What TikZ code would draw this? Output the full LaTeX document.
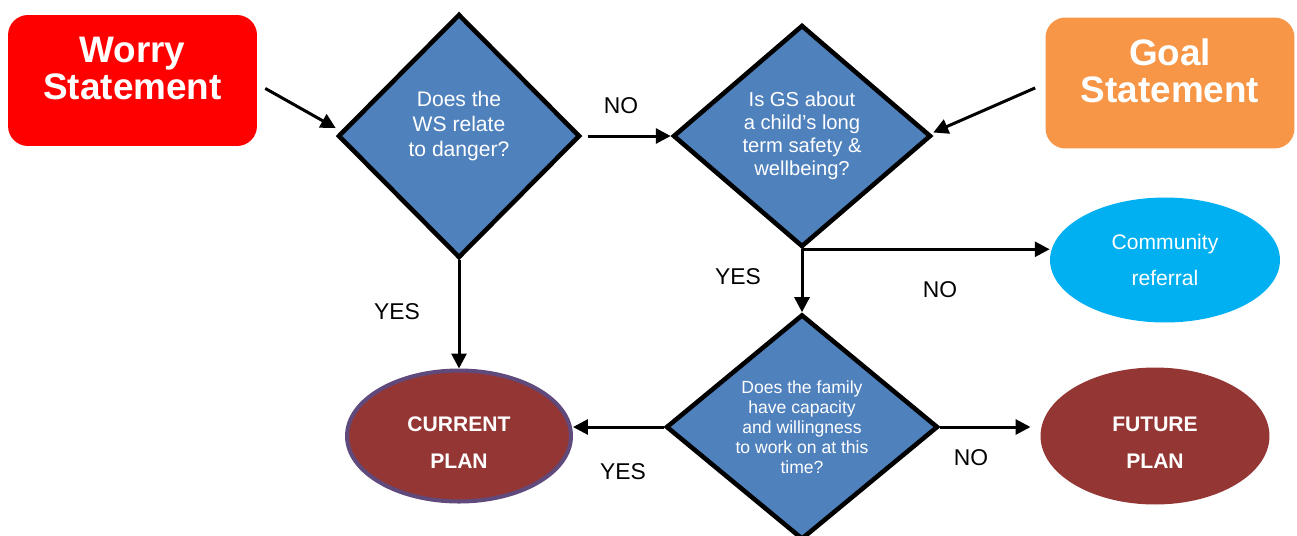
\documentclass[tikz,border=0pt]{standalone}
\usepackage{fontspec}
\setmainfont{Liberation Sans}
\usetikzlibrary{arrows.meta,shapes.geometric}
\definecolor{worryred}{HTML}{FF0000}
\definecolor{goalorange}{HTML}{F79646}
\definecolor{qblue}{HTML}{4F81BD}
\definecolor{commcyan}{HTML}{00B0F0}
\definecolor{planred}{HTML}{943634}
\definecolor{planedge}{HTML}{604A7B}

\begin{document}
\begin{tikzpicture}[x=0.02cm,y=-0.02cm,>={Triangle[length=8.5pt,width=8.5pt]},
  statebox/.style={rounded corners=0.4cm,minimum width=4.98cm,minimum height=2.62cm},
  stext/.style={text=white,align=center,font=\fontsize{21}{21}\selectfont\bfseries},
  question/.style={diamond,draw=black,line width=2.6pt,fill=qblue,text=white,align=center,inner sep=0pt},
  plan/.style={ellipse,fill=planred},
  ptext/.style={text=white,align=center,font=\fontsize{12}{21}\selectfont\bfseries},
  answer/.style={font=\fontsize{13}{15}\selectfont},
  flow/.style={->,line width=1.7pt}]
\useasboundingbox (0,0) rectangle (1297,535);

% statements
\node[statebox,fill=worryred,label={[stext,yshift=6.8pt]center:Worry\\Statement}] (ws) at (132.5,80.5) {};
\node[statebox,fill=goalorange,label={[stext,yshift=6.8pt]center:Goal\\Statement}] (gs) at (1170,83) {};

% questions
\node[question,minimum width=4.84cm,minimum height=4.88cm,
  label={[text=white,align=center,font=\fontsize{12}{14}\selectfont,yshift=5.7pt]center:Does the\\WS relate\\to danger?}]
  (d1) at (459,136) {};
\node[question,minimum width=5.16cm,minimum height=4.44cm,font=\fontsize{11.5}{13}\selectfont] (d2) at (802,136)
  {Is GS about\\a child’s long\\term safety \&\\wellbeing?};
\node[question,minimum width=5.44cm,minimum height=4.48cm,font=\fontsize{10}{11.3}\selectfont] (d3) at (802,427)
  {Does the family\\have capacity\\and willingness\\to work on at this\\time?};

% outcomes
\node[ellipse,fill=commcyan,text=white,align=center,minimum width=4.6cm,minimum height=2.5cm,
  font=\fontsize{12}{21}\selectfont] (cr) at (1165,260) {Community\\referral};
\node[plan,draw=planedge,line width=2.3pt,minimum width=4.48cm,minimum height=2.62cm,
  label={[ptext,yshift=-4pt]center:CURRENT\\PLAN}] (cp) at (459,436) {};
\node[plan,minimum width=4.58cm,minimum height=2.74cm,
  label={[ptext,yshift=-4pt]center:FUTURE\\PLAN}] (fp) at (1155,436) {};

% connectors
\draw[flow] ([xshift=4.5pt,yshift=-4.5pt]ws.east) -- ([yshift=4.5pt]d1.west);
\draw[flow] ([xshift=-5.7pt,yshift=-2.8pt]gs.west) -- ([yshift=2pt]d2.east);
\draw[flow,shorten <=3pt] (d1.east) -- (d2.west);
\draw[flow] (d2.south) -- (d2.south -| cr.west);
\draw[flow] (d2.south) -- (d3.north);
\draw[flow] (d1.south) -- (cp.north);
\draw[flow] (d3.west) -- (d3.west -| cp.east);
\draw[flow,shorten >=5.5pt] (d3.east) -- (d3.east -| fp.west);

% answers
\node[answer] (no1) at (621,106) {NO};
\node[answer] (yes1) at (397,312) {YES};
\node[answer] (yes2) at (738,277) {YES};
\node[answer] (no2) at (940,290) {NO};
\node[answer] (yes3) at (623,472) {YES};
\node[answer] (no3) at (971,458) {NO};
\end{tikzpicture}
\end{document}
